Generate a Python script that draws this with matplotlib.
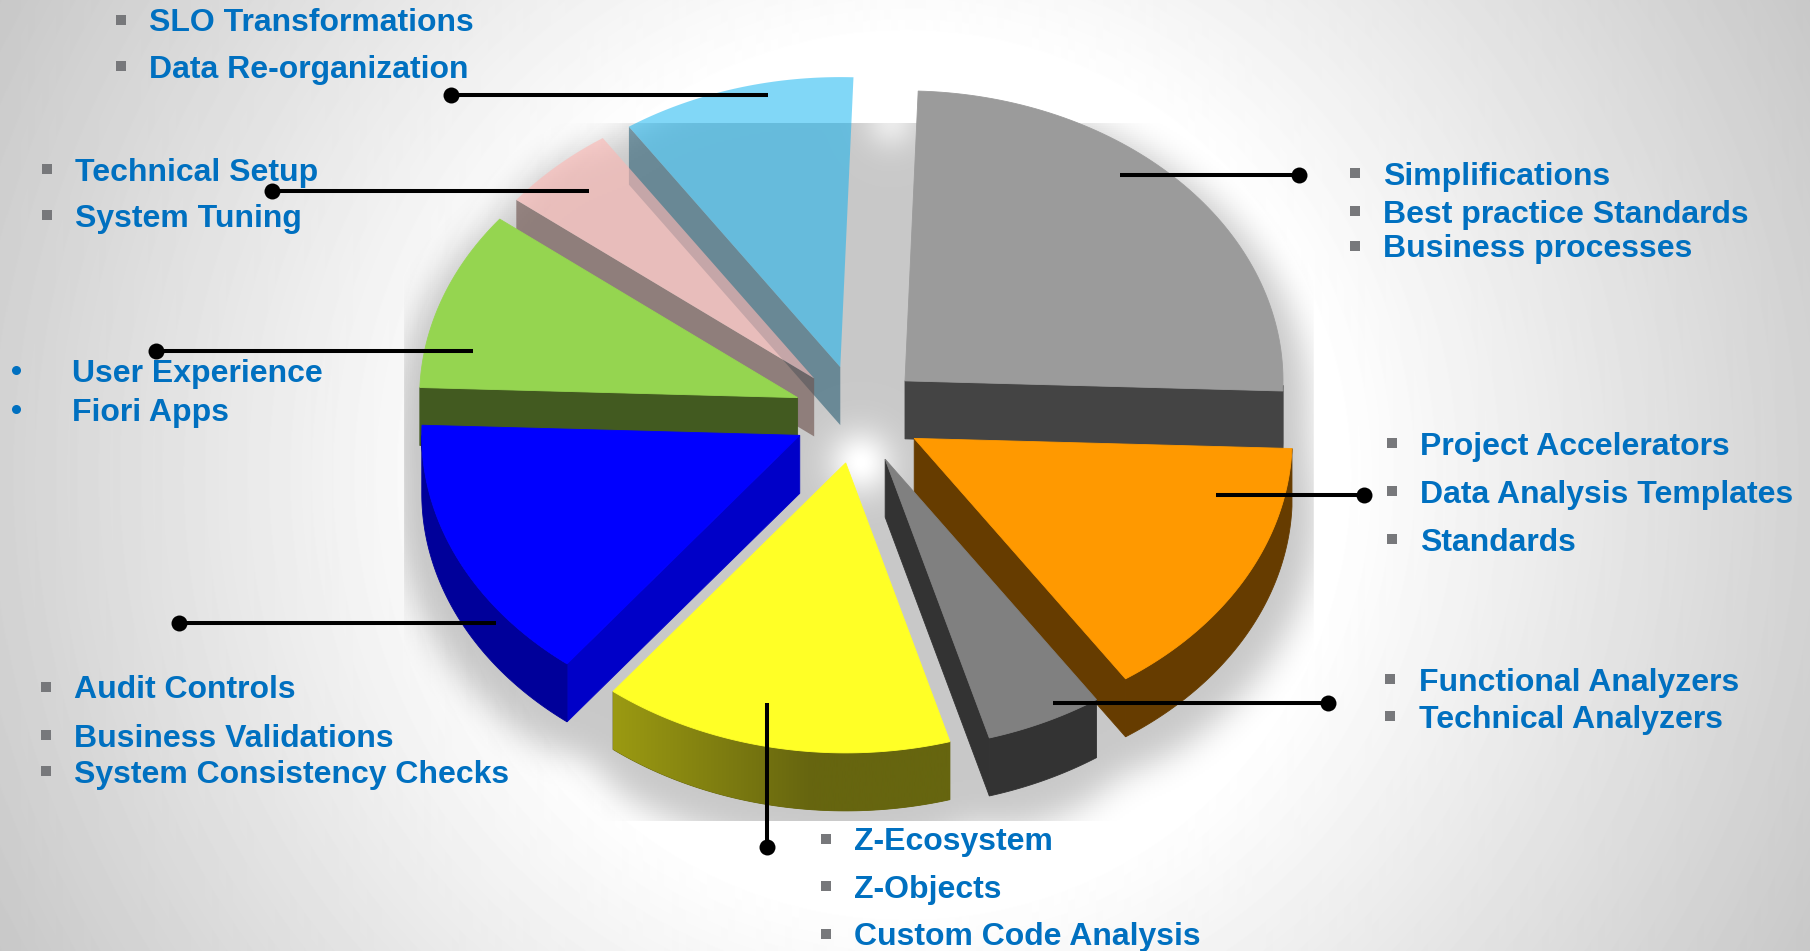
import numpy as np
import matplotlib
matplotlib.use("Agg")
import matplotlib.pyplot as plt
from matplotlib.patches import Polygon

W, H = 1810, 951

# slice shares, clockwise from the top
names = ["Simplification", "Accelerators", "Analyzers", "Z-Ecosystem",
         "Validations", "Fiori", "Technical", "SLO"]
shares = [25, 15, 5, 15, 15, 10, 5, 10]
top_colors = ["#9b9b9b", "#ff9900", "#808080", "#ffff26",
              "#0000ff", "#95d550", "#fcb8b4", "#05b0f0"]
side_colors = ["#444444", "#663c00", "#333333", "#66650f",
               "#0000c8", "#425a20", "#6e534e", "#0c4a64"]
arc_colors = ["#444444", "#663c00", "#333333", "#66650f",
              "#00009a", "#425a20", "#6e534e", "#0c4a64"]
alphas = [1, 1, 1, 1, 1, 1, 0.63, 0.5]
draw_order = [7, 6, 5, 4, 0, 1, 2, 3]

# (text, x, baseline y, bullet x, bullet y)
labels = [
    ("SLO Transformations", 149, 31, 121, 20),
    ("Data Re-organization", 149, 78, 121, 66),
    ("Technical Setup", 75, 181, 47, 169),
    ("System Tuning", 75, 227, 47, 215),
    ("Simplifications", 1383, 185, 1355, 173),
    ("Best practice Standards", 1383, 223, 1355, 211),
    ("Business processes", 1383, 257, 1355, 246),
    ("Project Accelerators", 1420, 455, 1392, 443),
    ("Data Analysis Templates", 1420, 503, 1392, 491),
    ("Standards", 1420, 551, 1392, 539),
    ("Functional Analyzers", 1419, 691, 1390, 679),
    ("Technical Analyzers", 1419, 728, 1390, 716),
    ("Z-Ecosystem", 854, 850, 826, 839),
    ("Z-Objects", 854, 898, 826, 886),
    ("Custom Code Analysis", 854, 945, 826, 934),
    ("Audit Controls", 74, 698, 46, 687),
    ("Business Validations", 74, 747, 46, 735),
    ("System Consistency Checks", 74, 783, 46, 771),
]
round_labels = [
    ("User Experience", 72, 382, 16, 370),
    ("Fiori Apps", 72, 421, 16, 409),
]

# leader lines: (x0, y0, x1, y1), the dot sits on the first point
leaders = [
    (451, 95, 768, 95),
    (272, 191, 589, 191),
    (156, 351, 473, 351),
    (179, 623, 496, 623),
    (767, 847, 767, 703),
    (1328, 703, 1053, 703),
    (1364, 495, 1216, 495),
    (1299, 175, 1120, 175),
]

CX, CY = 858, 414.5
RX, RY = 378, 290
DEPTH = 58
EXPLODE = 0.17
START = 88
SHADOW_DROP = 24
TEXT_BLUE = "#0070c0"
BULLET = "#77787b"
FONT_SIZE = 23


def slice_geometry(explode=EXPLODE):
    out = []
    hi = START
    for s in shares:
        lo = hi - s * 3.6
        mid = np.radians((hi + lo) / 2)
        ax_ = CX + explode * RX * np.cos(mid)
        ay_ = CY - explode * RY * np.sin(mid)
        out.append((ax_, ay_, lo, hi))
        hi = lo
    return out


def gaussian_blur(a, sigma):
    pad = int(sigma * 4)
    p = np.pad(a, pad)
    fy = np.fft.fftfreq(p.shape[0])[:, None]
    fx = np.fft.rfftfreq(p.shape[1])[None, :]
    g = np.exp(-2 * (np.pi * sigma) ** 2 * (fx ** 2 + fy ** 2))
    r = np.fft.irfft2(np.fft.rfft2(p) * g, s=p.shape)
    return r[pad:-pad, pad:-pad]


def shadow_alpha():
    # worked out at half size, the blur hides the difference
    xx, yy = np.meshgrid(np.arange(0, W, 2), np.arange(0, H, 2))
    mask = np.zeros(xx.shape)
    # the whole pie without any drop closes the gap at the top
    mask[((xx - CX) / RX) ** 2 + ((yy - CY) / RY) ** 2 <= 1] = 1
    # sweeping the explode amount fills the gaps between the slices
    for explode in np.linspace(0, EXPLODE, 5):
        for ax_, ay_, lo, hi in slice_geometry(explode):
            for off in range(SHADOW_DROP, SHADOW_DROP + DEPTH + 1, 12):
                u = (xx - ax_) / RX
                v = -(yy - ay_ - off) / RY
                ang = np.degrees(np.arctan2(v, u))
                ang = lo + (ang - lo) % 360
                mask[(u ** 2 + v ** 2 <= 1) & (ang <= hi)] = 1
    wide = gaussian_blur(mask, 12) > 0.15
    soft = gaussian_blur(wide.astype(float), 8)
    soft = np.repeat(np.repeat(soft, 2, axis=0), 2, axis=1)[:H, :W]
    full_x, full_y = np.meshgrid(np.arange(W), np.arange(H))
    inside = (full_x >= 404) & (full_x <= 1312) & (full_y >= 123) & (full_y <= 820)
    # the light spots in the middle and at the top gap
    soft = soft * (1 - np.exp(-((full_x - 860) ** 2 + (full_y - 462) ** 2) / 1000))
    soft = soft * (1 - 0.6 * np.exp(-((full_x - 890) ** 2 + (full_y - 122) ** 2) / 700))
    return soft * inside * 0.216


def main():
    fig = plt.figure(figsize=(W / 100, H / 100), dpi=100)
    ax = fig.add_axes([0, 0, 1, 1])

    # page background
    xx, yy = np.meshgrid(np.arange(W), np.arange(H))
    d = np.hypot(xx - 905, yy - 475) / 905
    bg = 255 - 55 * np.clip((d - 0.48) / 0.65, 0, 1)
    ax.imshow(bg, cmap="gray", vmin=0, vmax=255, extent=(0, W, H, 0), zorder=0)

    geom = slice_geometry()
    shade = np.zeros((H, W, 4))
    shade[..., 3] = shadow_alpha()
    ax.imshow(shade, extent=(0, W, H, 0), zorder=1)

    z = 2
    for i in draw_order:
        ax_, ay_, lo, hi = geom[i]
        t = np.radians(np.linspace(lo, hi, 80))
        arc = np.column_stack((ax_ + RX * np.cos(t), ay_ - RY * np.sin(t)))
        apex = np.array([ax_, ay_])
        top = np.vstack((apex, arc))
        drop = np.array([0, DEPTH])
        solid = alphas[i] == 1
        lw = 0.6 if solid else 0

        # only the faces turned towards the viewer
        for p, q in ((apex, arc[0]), (arc[-1], apex)):
            min_dx = 0 if solid else 0.2 * abs(q[1] - p[1])
            if q[0] - p[0] > min_dx:
                face = Polygon([p, q, q + drop, p + drop], closed=True,
                               facecolor=side_colors[i], edgecolor=side_colors[i],
                               linewidth=lw, alpha=alphas[i], zorder=z)
                ax.add_patch(face)
        front = arc[np.sin(t) <= 0]
        if len(front) > 1:
            outline = np.vstack((front, (front + drop)[::-1]))
            wall = Polygon(outline, closed=True, facecolor=arc_colors[i],
                           edgecolor=arc_colors[i], linewidth=lw,
                           alpha=alphas[i], zorder=z)
            ax.add_patch(wall)
            if names[i] == "Z-Ecosystem":
                # yellow rim gets lighter to the left
                grad = np.clip(1 - np.arange(340) / 200, 0, 1)
                rgb = np.outer(1 - grad, [0x66, 0x65, 0x0f]) + np.outer(grad, [0x9b, 0x9a, 0x12])
                rgb = rgb[None, :, :] / 255
                im = ax.imshow(rgb, extent=(outline[:, 0].min(), outline[:, 0].max(), H, 0),
                               zorder=z, aspect="auto")
                im.set_clip_path(wall)
        top_patch = Polygon(top, closed=True, facecolor=top_colors[i],
                            edgecolor=top_colors[i], linewidth=lw,
                            alpha=alphas[i], zorder=z)
        ax.add_patch(top_patch)
        z += 1

    for x0, y0, x1, y1 in leaders:
        ax.plot([x0, x1], [y0, y1], color="black", lw=2.9, zorder=20,
                solid_capstyle="butt")
        ax.plot([x0], [y0], marker="o", ms=11.5, color="black", mew=0, zorder=20)

    for text, x, y, bx, by in labels:
        ax.text(x, y, text, color=TEXT_BLUE, fontsize=FONT_SIZE, fontweight="bold",
                family="Liberation Sans", va="baseline", ha="left", zorder=15)
        ax.plot([bx], [by], marker="s", ms=7.2, color=BULLET, mew=0, zorder=15)
    for text, x, y, bx, by in round_labels:
        ax.text(x, y, text, color=TEXT_BLUE, fontsize=FONT_SIZE, fontweight="bold",
                family="Liberation Sans", va="baseline", ha="left", zorder=15)
        ax.plot([bx], [by], marker="o", ms=6.5, color=TEXT_BLUE, mew=0, zorder=15)

    ax.set_xlim(0, W)
    ax.set_ylim(H, 0)
    ax.set_aspect("auto")
    ax.axis("off")
    fig.savefig("out.png", dpi=100)


if __name__ == "__main__":
    main()
